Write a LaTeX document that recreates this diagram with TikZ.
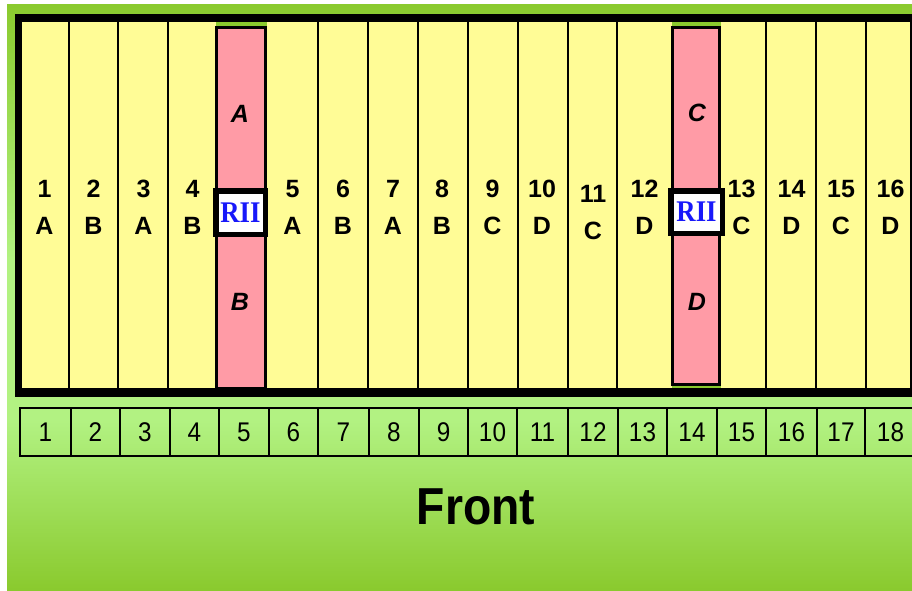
\documentclass[tikz,border=0pt]{standalone}
\usepackage{fontspec}
\setmainfont{Liberation Sans}
\newfontfamily\riifont{Liberation Serif}

\definecolor{slotyellow}{RGB}{255,252,150}
\definecolor{cardpink}{RGB}{255,155,166}
\definecolor{darkgrass}{RGB}{138,202,46}
\definecolor{lightgrass}{RGB}{178,242,130}
\definecolor{riiblue}{RGB}{24,24,250}

\tikzset{
  slotline/.style={draw=black, line width=1.5pt},
  cardedge/.style={draw=black, line width=3pt, fill=cardpink},
  slotnum/.style={font=\bfseries\fontsize{25}{25}\selectfont, inner sep=0pt, anchor=center},
  slotletter/.style={font=\bfseries\fontsize{25}{25}\selectfont, inner sep=0pt, anchor=center},
  cardletter/.style={font=\bfseries\itshape\fontsize{25}{25}\selectfont, inner sep=0pt, anchor=center},
  riibox/.style={draw=black, line width=5.5pt, fill=white, inner sep=0pt,
    text=riiblue, font=\riifont\bfseries\fontsize{30}{30}\selectfont},
  frontcell/.style={draw=black, line width=1.3pt},
  frontnum/.style={font=\fontsize{27}{27}\selectfont, inner sep=0pt, anchor=center},
  fronttitle/.style={font=\bfseries\fontsize{52}{52}\selectfont, inner sep=0pt, anchor=center},
}

\begin{document}
\begin{tikzpicture}[x=1pt,y=-1pt]
\useasboundingbox (0,0) rectangle (912,590);
\clip (0,0) rectangle (912,590);
\fill[white] (0,0) rectangle (912,590);

% green panel behind the chassis
\shade[top color=darkgrass, bottom color=lightgrass] (7,4) rectangle (912,260);
\fill[lightgrass] (7,259) rectangle (912,421);
\shade[top color=lightgrass, bottom color=darkgrass] (7,420) rectangle (912,590);

% chassis frame and slot area
\fill[black] (15,14) rectangle (940,397);
\fill[slotyellow] (22,22) rectangle (940,388);
\foreach \x in {69,118,168,318,368,418,468,518,568,617,766,816,866,911}
  \draw[slotline] (\x,22) -- (\x,388);

% the two RII cards
\fill[darkgrass] (216,22) rectangle (267,25.5);
\draw[cardedge] (216.5,27.5) rectangle (265.5,388);
\fill[darkgrass] (672,22) rectangle (721,25.5);
\fill[darkgrass] (672,386) rectangle (721,388);
\draw[cardedge] (672.5,27.5) rectangle (719.5,384.5);

\node[cardletter] (cardA) at (240,114) {A};
\node[cardletter] (cardB) at (240,302) {B};
\node[cardletter] (cardC) at (697,113) {C};
\node[cardletter] (cardD) at (697,302) {D};

\node[riibox, minimum width=49.5pt, minimum height=43.5pt] (riiL) at (240.5,212.5)
  {\scalebox{0.89}[1]{RII}};
\node[riibox, minimum width=51.5pt, minimum height=42.5pt] (riiR) at (696.5,212)
  {\scalebox{0.89}[1]{RII}};

% slot numbers and their groups
\foreach \n/\l/\x/\dy in {1/A/44.5/0, 2/B/93.5/0, 3/A/143.5/0, 4/B/192.5/0,
    5/A/292.5/0, 6/B/343/0, 7/A/393/0, 8/B/442/0, 9/C/492.5/0, 10/D/542/0,
    11/C/593/5, 12/D/644.5/0, 13/C/741.5/0, 14/D/791.5/0, 15/C/841/0, 16/D/890.5/0} {
  \node[slotnum] (num\n) at (\x,189+\dy) {\n};
  \node[slotletter] (grp\n) at (\x,226+\dy) {\l};
}

% front position row
\foreach \i/\a/\b in {1/20/71, 2/71/120, 3/120/170, 4/170/219, 5/219/269,
    6/269/318, 7/318/369, 8/369/419, 9/419/468, 10/468/517, 11/517/568,
    12/568/618, 13/618/667, 14/667/717, 15/717/766, 16/766/817, 17/817/865,
    18/865/916} {
  \draw[frontcell] (\a,408) rectangle (\b,456);
  \node[frontnum] (pos\i) at ({(\a+\b)/2},432) {\scalebox{0.9}[1]{\i}};
}

\node[fronttitle] (front) at (476,507) {\scalebox{0.89}[1]{Front}};
\end{tikzpicture}
\end{document}
